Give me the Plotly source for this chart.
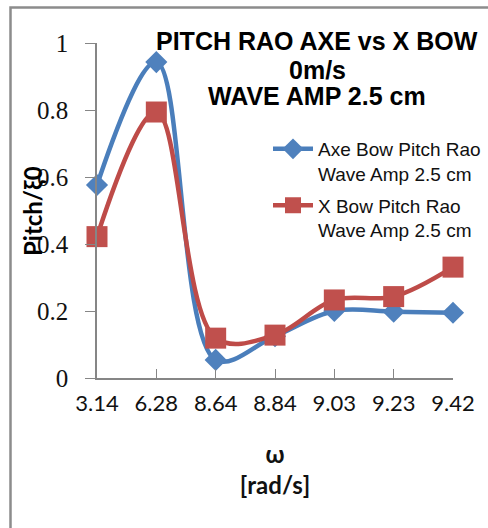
import plotly.graph_objects as go

categories = ["3.14", "6.28", "8.64", "8.84", "9.03", "9.23", "9.42"]
axe_bow = [0.576, 0.943, 0.054, 0.125, 0.200, 0.198, 0.195]
x_bow = [0.422, 0.794, 0.119, 0.128, 0.233, 0.243, 0.331]
y_ticks = [0, 0.2, 0.4, 0.6, 0.8, 1]
y_tick_labels = ["0", "0.2", "0.4", "0.6", "0.8", "1"]
title_lines = ["PITCH RAO AXE vs X BOW", "0m/s", "WAVE AMP 2.5 cm"]

BLUE = "#4A7EBB"
RED = "#BE4B48"

W, H = 488, 528
L, R, T, B = 97, 35, 43, 150

fig = go.Figure()
fig.add_trace(go.Scatter(
    x=categories, y=axe_bow, mode="lines+markers",
    name="Axe Bow Pitch Rao<br>Wave Amp 2.5 cm", legendgroup="a",
    line=dict(color=BLUE, width=4.5, shape="spline", smoothing=1),
    marker=dict(symbol="diamond", size=17, color="#4F81BD"),
    cliponaxis=False,
))
fig.add_trace(go.Scatter(
    x=categories, y=x_bow, mode="lines+markers",
    name="X Bow Pitch Rao<br>Wave Amp 2.5 cm", legendgroup="b",
    line=dict(color=RED, width=4.5, shape="spline", smoothing=1),
    marker=dict(symbol="square", size=21, color="#C0504D"),
    cliponaxis=False,
))

pw = W - L - R
ph = H - T - B

def px_x(p):
    return (p - L) / pw

def px_y(p):
    return (H - B - p) / ph

title_y = [41, 70, 96]
annotations = [
    dict(text="<b>%s</b>" % t, xref="paper", yref="paper",
         x=px_x(317), y=px_y(yc), xanchor="center", yanchor="middle",
         showarrow=False,
         font=dict(family="Liberation Sans, Arial", size=25, color="#000000"))
    for t, yc in zip(title_lines, title_y)
]
annotations.append(
    dict(text="<b>Pitch/ξ0</b>", textangle=-90,
         xref="paper", yref="paper", x=px_x(32), y=px_y(211),
         xanchor="center", yanchor="middle", showarrow=False,
         font=dict(family="Lato, Calibri", size=24, color="#000000"))
)

fig.update_layout(
    width=W, height=H,
    margin=dict(l=L, r=R, t=T, b=B, autoexpand=False),
    paper_bgcolor="white", plot_bgcolor="white",
    showlegend=True,
    legend=dict(
        x=px_x(268), y=px_y(130), xanchor="left", yanchor="top",
        font=dict(family="Liberation Sans, Arial", size=19, color="#111111"),
        bgcolor="rgba(0,0,0,0)", valign="top", tracegroupgap=4,
        itemwidth=40,
    ),
    xaxis=dict(
        type="category", range=[0, 6], showgrid=False, zeroline=False,
        showline=True, linecolor="#868686", linewidth=1.5,
        ticks="inside", ticklen=9, tickcolor="#868686",
        tickfont=dict(family="Lato, Calibri", size=22, color="#111111"),
        ticklabelstandoff=5,
        title=dict(text="<b>ω<br>[rad/s]</b>",
                   font=dict(family="Lato, Calibri", size=24, color="#111111"),
                   standoff=31),
        fixedrange=True,
    ),
    yaxis=dict(
        range=[0, 1], tickvals=y_ticks, ticktext=y_tick_labels,
        showgrid=False, zeroline=False,
        showline=True, linecolor="#868686", linewidth=1.5,
        ticks="outside", ticklen=10, tickcolor="#868686",
        tickfont=dict(family="Liberation Serif, Times New Roman", size=25, color="#111111"),
        ticklabelstandoff=12,
        fixedrange=True,
    ),
    annotations=annotations,
    shapes=[
        dict(type="rect", xref="paper", yref="paper",
             x0=px_x(10.5), y0=px_y(560), x1=px_x(520), y1=px_y(7.5),
             line=dict(color="#8C8C8C", width=2.5), layer="below"),
    ],
)

fig.write_html("out.html")
